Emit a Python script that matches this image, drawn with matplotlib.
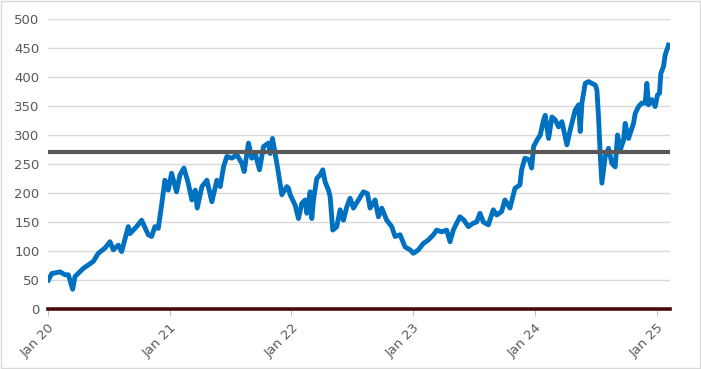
import matplotlib
matplotlib.use("Agg")
import matplotlib.pyplot as plt
import pandas as pd
from matplotlib.patches import Rectangle

# valores
datas = [
    "2020-01-02", "2020-01-12", "2020-02-06", "2020-02-21", "2020-03-02", "2020-03-15",
    "2020-03-22", "2020-04-16", "2020-05-16", "2020-05-31", "2020-06-20", "2020-07-05",
    "2020-07-15", "2020-07-30", "2020-08-09", "2020-08-29", "2020-09-03", "2020-09-23",
    "2020-10-08", "2020-10-28", "2020-11-07", "2020-11-17", "2020-11-27", "2020-12-07",
    "2020-12-17", "2020-12-27", "2021-01-06", "2021-01-21", "2021-01-31", "2021-02-12",
    "2021-02-25", "2021-03-08", "2021-03-18", "2021-03-24", "2021-04-07", "2021-04-22",
    "2021-05-07", "2021-05-22", "2021-06-01", "2021-06-11", "2021-06-21", "2021-07-06",
    "2021-07-21", "2021-08-05", "2021-08-12", "2021-08-25", "2021-09-04", "2021-09-14",
    "2021-09-27", "2021-10-09", "2021-10-24", "2021-10-29", "2021-11-05", "2021-11-13",
    "2021-11-23", "2021-12-03", "2021-12-18", "2021-12-23", "2021-12-28", "2022-01-12",
    "2022-01-22", "2022-02-01", "2022-02-11", "2022-02-16", "2022-02-26", "2022-03-03",
    "2022-03-08", "2022-03-18", "2022-03-28", "2022-04-05", "2022-04-12", "2022-04-22",
    "2022-04-27", "2022-05-05", "2022-05-17", "2022-05-27", "2022-06-06", "2022-06-16",
    "2022-06-26", "2022-07-06", "2022-07-21", "2022-08-05", "2022-08-17", "2022-08-25",
    "2022-09-09", "2022-09-19", "2022-09-29", "2022-10-14", "2022-10-29", "2022-11-08",
    "2022-11-23", "2022-12-08", "2022-12-23", "2023-01-02", "2023-01-17", "2023-02-01",
    "2023-02-16", "2023-03-03", "2023-03-13", "2023-03-28", "2023-04-12", "2023-04-22",
    "2023-05-02", "2023-05-12", "2023-05-22", "2023-06-03", "2023-06-16", "2023-07-01",
    "2023-07-11", "2023-07-21", "2023-07-31", "2023-08-15", "2023-08-30", "2023-09-09",
    "2023-09-24", "2023-10-04", "2023-10-19", "2023-11-03", "2023-11-18", "2023-11-23",
    "2023-12-03", "2023-12-16", "2023-12-23", "2023-12-29", "2024-01-08", "2024-01-18",
    "2024-01-28", "2024-02-02", "2024-02-12", "2024-02-22", "2024-03-03", "2024-03-13",
    "2024-03-23", "2024-04-07", "2024-04-17", "2024-05-02", "2024-05-12", "2024-05-17",
    "2024-05-22", "2024-06-01", "2024-06-11", "2024-06-21", "2024-07-01", "2024-07-06",
    "2024-07-11", "2024-07-16", "2024-07-21", "2024-07-31", "2024-08-10", "2024-08-20",
    "2024-08-30", "2024-09-06", "2024-09-14", "2024-09-24", "2024-09-29", "2024-10-09",
    "2024-10-24", "2024-10-29", "2024-11-08", "2024-11-18", "2024-11-28", "2024-12-03",
    "2024-12-08", "2024-12-18", "2024-12-28", "2025-01-04", "2025-01-10", "2025-01-14",
    "2025-01-22", "2025-01-27", "2025-02-06",
]
valores = [
    50, 61, 64, 59, 59, 34,
    56, 70, 82, 96, 105, 116,
    102, 110, 99, 142, 130, 142,
    153, 128, 125, 142, 139, 179,
    222, 205, 234, 202, 231, 243,
    217, 188, 205, 174, 211, 222,
    185, 222, 211, 245, 263, 260,
    266, 251, 237, 286, 260, 268,
    240, 280, 286, 268, 294, 268,
    234, 197, 211, 208, 197, 179,
    156, 182, 188, 165, 202, 156,
    188, 225, 231, 240, 219, 205,
    194, 136, 142, 171, 153, 176,
    191, 174, 188, 202, 199, 174,
    188, 159, 174, 153, 142, 125,
    128, 107, 102, 96, 102, 113,
    119, 128, 136, 133, 136, 116,
    136, 148, 159, 153, 142, 148,
    150, 165, 150, 145, 171, 162,
    168, 188, 174, 208, 214, 240,
    260, 257, 243, 280, 291, 300,
    326, 334, 294, 331, 326, 314,
    323, 283, 309, 343, 352, 306,
    355, 389, 392, 389, 386, 378,
    331, 266, 217, 263, 277, 251,
    245, 300, 274, 291, 320, 294,
    320, 337, 349, 355, 355, 389,
    352, 361, 349, 369, 372, 406,
    418, 438, 455,
]
nivel = 270
anos = ["2020-01-01", "2021-01-01", "2022-01-01", "2023-01-01", "2024-01-01", "2025-01-01"]
rotulos = ["Jan 20", "Jan 21", "Jan 22", "Jan 23", "Jan 24", "Jan 25"]

d = pd.to_datetime(datas)
ticks = pd.to_datetime(anos)

fig = plt.figure(figsize=(7.01, 3.69), dpi=100)
ax = fig.add_axes([0.0685, 0.1626, 0.8875, 0.786])

ax.plot(d, valores, color="#0070C0", linewidth=3.5, solid_joinstyle="round", zorder=3)
ax.axhline(nivel, color="#595959", linewidth=3.0, zorder=4)
ax.axhline(0, color="#4A0A0A", linewidth=2.6, zorder=5, clip_on=False)

ax.set_ylim(0, 500)
ax.set_yticks(range(0, 501, 50))
ax.set_xlim(pd.Timestamp("2020-01-01"), pd.Timestamp("2025-02-11"))
ax.set_xticks(ticks)
ax.set_xticklabels(rotulos, rotation=45, ha="right", rotation_mode="anchor")
ax.grid(axis="y", color="#D9D9D9", linewidth=1.0)
ax.set_axisbelow(True)

for s in ["left", "right", "top", "bottom"]:
    ax.spines[s].set_visible(False)
ax.tick_params(axis="y", length=0, labelsize=9.5, labelcolor="#595959", pad=6)
ax.tick_params(axis="x", length=5, color="#BFBFBF", labelsize=9.5, labelcolor="#595959", pad=4)

fig.patches.append(Rectangle((0.001, 0.002), 0.997, 0.995, transform=fig.transFigure,
                             fill=False, edgecolor="#D9D9D9", linewidth=1.0))

plt.savefig("out.png", dpi=100)
